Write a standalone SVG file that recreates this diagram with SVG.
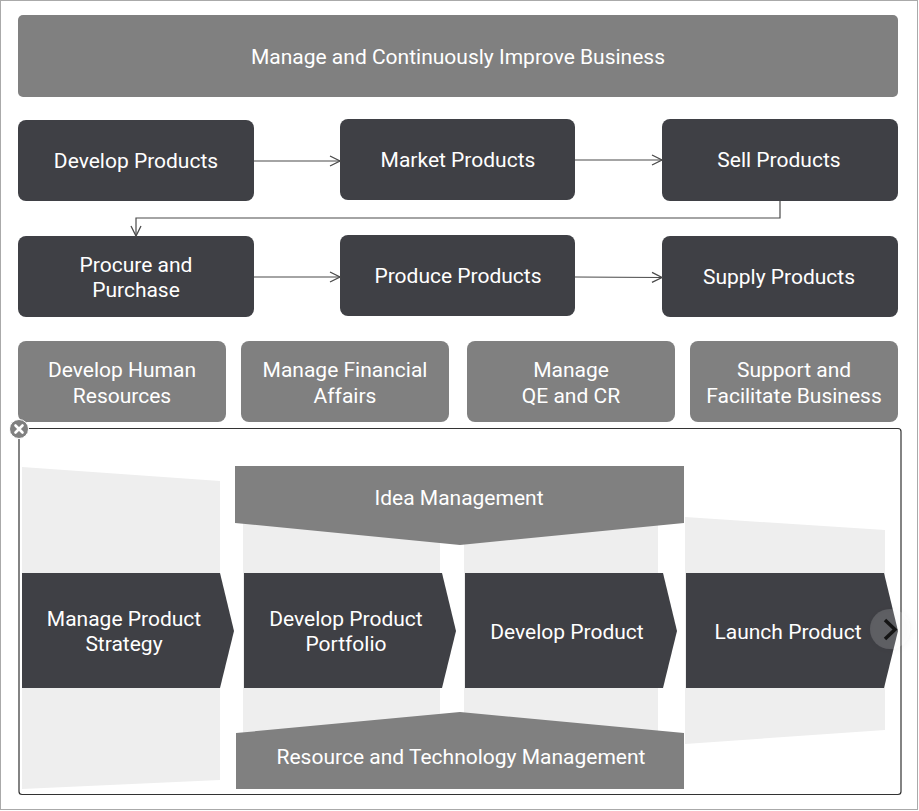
<svg xmlns="http://www.w3.org/2000/svg" width="919" height="811" viewBox="0 0 919 811">
<style>
text{font-family:Roboto,"Liberation Sans",Arial,sans-serif;font-size:21px;fill:#ffffff;text-anchor:middle}
.dark{fill:#3f4045}
.mid{fill:#808080}
.bg{fill:#eeeeee}
.conn{fill:none;stroke:#4a4a4a;stroke-width:1.2}
</style>
<defs>
<marker id="arr" markerUnits="userSpaceOnUse" markerWidth="14" markerHeight="14" refX="11" refY="6" orient="auto">
<path d="M1,1 L11,6 L1,11" fill="none" stroke="#4a4a4a" stroke-width="1.3"/>
</marker>
<filter id="sh" x="-50%" y="-50%" width="200%" height="200%">
<feDropShadow dx="0" dy="1" stdDeviation="3" flood-color="#000" flood-opacity="0.3"/>
</filter>
</defs>
<rect x="0" y="0" width="919" height="811" fill="#ffffff"/>
<rect x="0.5" y="0.5" width="917" height="809" fill="none" stroke="#aaaaaa"/>

<g id="n-manage-business"><rect class="mid" x="18" y="15" width="880" height="82" rx="5"/><text x="458" y="64">Manage and Continuously Improve Business</text></g>

<g id="n-develop-products"><rect class="dark" x="18" y="120" width="236" height="81" rx="8"/><text x="136" y="168">Develop Products</text></g>
<g id="n-market-products"><rect class="dark" x="340" y="119" width="235" height="81" rx="8"/><text x="458" y="167">Market Products</text></g>
<g id="n-sell-products"><rect class="dark" x="662" y="119" width="236" height="82" rx="8"/><text x="779" y="167">Sell Products</text></g>

<g id="n-procure"><rect class="dark" x="18" y="236" width="236" height="81" rx="8"/><text x="136" y="272">Procure and</text><text x="136" y="297">Purchase</text></g>
<g id="n-produce"><rect class="dark" x="340" y="235" width="235" height="81" rx="8"/><text x="458" y="283">Produce Products</text></g>
<g id="n-supply"><rect class="dark" x="662" y="236" width="236" height="81" rx="8"/><text x="779" y="284">Supply Products</text></g>

<g id="n-hr"><rect class="mid" x="18" y="341" width="208" height="81" rx="8"/><text x="122" y="377">Develop Human</text><text x="122" y="403">Resources</text></g>
<g id="n-fin"><rect class="mid" x="241" y="341" width="208" height="81" rx="8"/><text x="345" y="377">Manage Financial</text><text x="345" y="403">Affairs</text></g>
<g id="n-qe"><rect class="mid" x="467" y="341" width="208" height="81" rx="8"/><text x="571" y="377">Manage</text><text x="571" y="403">QE and CR</text></g>
<g id="n-support"><rect class="mid" x="690" y="341" width="208" height="81" rx="8"/><text x="794" y="377">Support and</text><text x="794" y="403">Facilitate Business</text></g>

<g id="connectors">
<path class="conn" d="M254,161 L340,161" marker-end="url(#arr)"/>
<path class="conn" d="M575,160 L662,160" marker-end="url(#arr)"/>
<path class="conn" d="M780,201 L780,218 L136,218 L136,236" marker-end="url(#arr)"/>
<path class="conn" d="M254,277 L340,277" marker-end="url(#arr)"/>
<path class="conn" d="M575,277 L662,277.5" marker-end="url(#arr)"/>
</g>

<g id="panel">
<rect x="19" y="428.5" width="882" height="366" rx="3" fill="#ffffff" stroke="#333333" stroke-width="1.2"/>
<polygon class="bg" points="22,467 220,481 220,780 22,789"/>
<rect class="bg" x="243" y="520" width="197" height="215"/>
<rect class="bg" x="464" y="520" width="194" height="215"/>
<polygon class="bg" points="685,517 885,530 885,730 685,744"/>
</g>

<g id="n-idea"><polygon class="mid" points="235,466 684,466 684,523 460,545 235,523"/><text x="459" y="505">Idea Management</text></g>
<g id="n-resource"><polygon class="mid" points="236,733 460,712 684,733 684,789 236,789"/><text x="461" y="764">Resource and Technology Management</text></g>

<g id="n-strategy"><polygon class="dark" points="22,573 220,573 234,631 220,688 22,688"/><text x="124" y="626">Manage Product</text><text x="124" y="651">Strategy</text></g>
<g id="n-portfolio"><polygon class="dark" points="244,573 442,573 456,631 442,688 244,688"/><text x="346" y="626">Develop Product</text><text x="346" y="651">Portfolio</text></g>
<g id="n-develop"><polygon class="dark" points="465,573 663,573 677,631 663,688 465,688"/><text x="567" y="639">Develop Product</text></g>
<g id="n-launch"><polygon class="dark" points="686,573 884,573 898,631 884,688 686,688"/><text x="788" y="639">Launch Product</text></g>

<g id="close-icon">
<circle cx="19" cy="429" r="9.5" fill="#808080" stroke="#ffffff" stroke-width="1"/>
<path d="M15.5,425.5 L22.5,432.5 M22.5,425.5 L15.5,432.5" stroke="#ffffff" stroke-width="2.6" stroke-linecap="round"/>
</g>
<g id="next-button">
<circle cx="890" cy="629" r="20" fill="#ffffff" fill-opacity="0.15" filter="url(#sh)"/>
<path d="M885,620 L895,629.5 L885,639" fill="none" stroke="#151515" stroke-width="3.5"/>
</g>
</svg>
